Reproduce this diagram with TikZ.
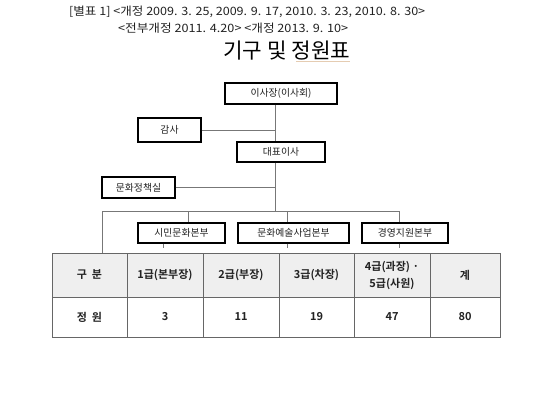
\documentclass[tikz,border=0pt]{standalone}
\usepackage{fontspec}
\setmainfont{Noto Sans CJK KR}[BoldFont={Noto Sans CJK KR Bold}]
\usepackage{graphicx}
\definecolor{txt}{HTML}{222222}
\definecolor{conn}{HTML}{777777}
\definecolor{grid}{HTML}{666666}
\definecolor{hdr}{HTML}{EFEFEF}
\tikzset{
  orgbox/.style={draw=black, line width=1.1pt, fill=white, inner sep=0pt, text=txt, font=\fontsize{9.8}{11}\selectfont},
  link/.style={draw=conn, line width=0.7pt},
  cell/.style={draw=grid, line width=0.8pt, inner sep=0pt, text=txt, align=center, font=\fontsize{11}{17}\selectfont\bfseries},
  hcell/.style={cell, fill=hdr},
}
\begin{document}
\begin{tikzpicture}[x=1pt,y=-1pt]
\useasboundingbox (0,0) rectangle (550,413);
\fill[white] (0,0) rectangle (550,413);
% header
\node[anchor=west, inner sep=0pt, text=txt] (h1) at (69,12) {\resizebox{356pt}{9.5pt}{[별표 1] <개정 2009. 3. 25, 2009. 9. 17, 2010. 3. 23, 2010. 8. 30>}};
\node[anchor=west, inner sep=0pt, text=txt] (h2) at (118,28) {\resizebox{230pt}{9.5pt}{<전부개정 2011. 4.20> <개정 2013. 9. 10>}};
\node[anchor=west, inner sep=0pt, text=black] (title) at (223,51) {\resizebox{127pt}{!}{기구 및 정원표}};
\draw[draw=brown!40, line width=0.8pt] (296,61) -- (350,61);
% org chart
\coordinate (vx) at (275,0);
\node[orgbox, minimum width=112pt, minimum height=21pt] (chair) at (281,93.5) {이사장(이사회)};
\node[orgbox, minimum width=63pt, minimum height=24pt] (audit) at (169.5,130) {감사};
\node[orgbox, minimum width=88pt, minimum height=20pt] (ceo) at (281,152) {대표이사};
\node[orgbox, minimum width=73pt, minimum height=21pt] (policy) at (138.5,187.5) {문화정책실};
\node[orgbox, minimum width=87pt, minimum height=20pt] (div1) at (181.5,233) {시민문화본부};
\node[orgbox, minimum width=111pt, minimum height=20pt] (div2) at (293.5,233) {문화예술사업본부};
\node[orgbox, minimum width=86pt, minimum height=20pt] (div3) at (405,233) {경영지원본부};
\coordinate (busL) at (102,211);
\coordinate (busM) at (275,211);
\coordinate (b1) at (188,211);
\coordinate (b2) at (287,211);
\coordinate (busR) at (399,211);
\coordinate (tL) at (102,253);
\coordinate (t1) at (163,248);
\coordinate (t2) at (287,248);
\coordinate (t3) at (399,248);
\draw[link] (chair.south -| vx) -- (ceo.north -| vx);
\draw[link] (audit.east) -- (audit.east -| vx);
\draw[link] (ceo.south -| vx) -- (busM);
\draw[link] (policy.east) -- (policy.east -| vx);
\draw[link] (busL) -- (busR);
\draw[link] (busL) -- (tL);
\draw[link] (b1) -- (div1.north -| b1);
\draw[link] (b2) -- (div2.north -| b2);
\draw[link] (busR) -- (div3.north -| busR);
\draw[link] (div1.south -| t1) -- (t1);
\draw[link] (div2.south -| t2) -- (t2);
\draw[link] (div3.south -| t3) -- (t3);
% table
\node[hcell, minimum width=75pt, minimum height=44pt] (c00) at (89.5,275) {구\ \ 분};
\node[hcell, minimum width=76pt, minimum height=44pt] (c01) at (165,275) {1급(본부장)};
\node[hcell, minimum width=76pt, minimum height=44pt] (c02) at (241,275) {2급(부장)};
\node[hcell, minimum width=75pt, minimum height=44pt] (c03) at (316.5,275) {3급(차장)};
\node[hcell, minimum width=76pt, minimum height=44pt] (c04) at (392,275) {4급(과장) ·\\5급(사원)};
\node[hcell, minimum width=70pt, minimum height=44pt] (c05) at (465,275) {계};
\node[cell, minimum width=75pt, minimum height=40pt] (c10) at (89.5,317) {정\ \ 원};
\node[cell, minimum width=76pt, minimum height=40pt] (c11) at (165,317) {3};
\node[cell, minimum width=76pt, minimum height=40pt] (c12) at (241,317) {11};
\node[cell, minimum width=75pt, minimum height=40pt] (c13) at (316.5,317) {19};
\node[cell, minimum width=76pt, minimum height=40pt] (c14) at (392,317) {47};
\node[cell, minimum width=70pt, minimum height=40pt] (c15) at (465,317) {80};
\end{tikzpicture}
\end{document}
